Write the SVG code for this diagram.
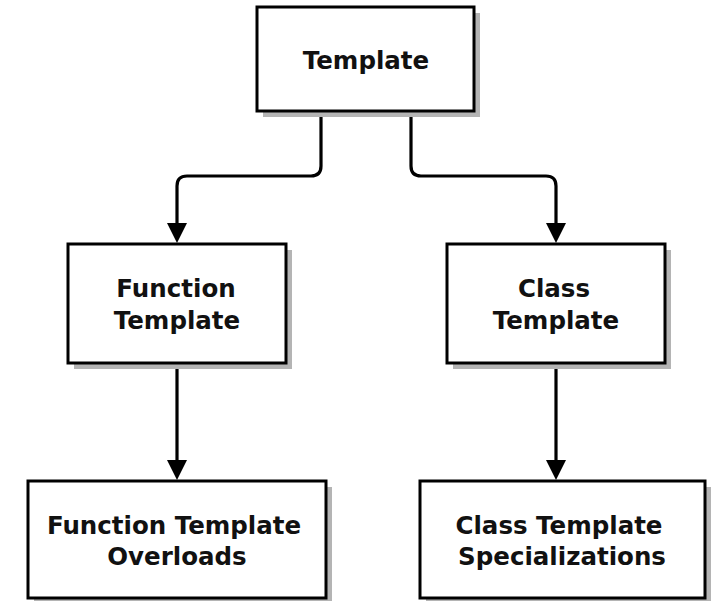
<svg xmlns="http://www.w3.org/2000/svg" width="713" height="601" viewBox="0 0 713 601">
<defs>
<style>
.shadow{fill:#b4b4b4;stroke:none}
.box{fill:#ffffff;stroke:#000000;stroke-width:3}
.lbl{font-family:"DejaVu Sans","Liberation Sans",sans-serif;font-weight:bold;font-size:24.5px;fill:#111111;text-anchor:middle}
.conn{fill:none;stroke:#000000;stroke-width:3.2}
</style>
<marker id="arrow" markerUnits="userSpaceOnUse" markerWidth="20" markerHeight="20" viewBox="0 0 20 20" refX="2" refY="10" orient="auto">
<path d="M0,0 L20,10 L0,20 z" fill="#000000"/>
</marker>
</defs>
<rect width="713" height="601" fill="#ffffff"/>
<g id="connectors">
<path class="conn" d="M321,111 V166 Q321,176 311,176 H187 Q177,176 177,186 V225" marker-end="url(#arrow)"/>
<path class="conn" d="M411,111 V166 Q411,176 421,176 H546 Q556,176 556,186 V225" marker-end="url(#arrow)"/>
<path class="conn" d="M177,363 V462" marker-end="url(#arrow)"/>
<path class="conn" d="M556,363 V462" marker-end="url(#arrow)"/>
</g>
<g id="template">
<rect class="shadow" x="263" y="13" width="217" height="104"/>
<rect class="box" x="257" y="7" width="217" height="104"/>
<text class="lbl" x="366" y="69">Template</text>
</g>
<g id="function-template">
<rect class="shadow" x="74" y="250" width="218" height="119"/>
<rect class="box" x="68" y="244" width="218" height="119"/>
<text class="lbl" x="176" y="297">Function</text>
<text class="lbl" x="177" y="329">Template</text>
</g>
<g id="class-template">
<rect class="shadow" x="453" y="250" width="218" height="119"/>
<rect class="box" x="447" y="244" width="218" height="119"/>
<text class="lbl" x="554" y="297">Class</text>
<text class="lbl" x="556" y="329">Template</text>
</g>
<g id="function-template-overloads">
<rect class="shadow" x="34" y="487" width="298" height="117"/>
<rect class="box" x="28" y="481" width="298" height="117"/>
<text class="lbl" x="174" y="534">Function Template</text>
<text class="lbl" x="177" y="565">Overloads</text>
</g>
<g id="class-template-specializations">
<rect class="shadow" x="426" y="487" width="285" height="117"/>
<rect class="box" x="420" y="481" width="285" height="117"/>
<text class="lbl" x="559" y="534">Class Template</text>
<text class="lbl" x="562" y="565">Specializations</text>
</g>
</svg>
